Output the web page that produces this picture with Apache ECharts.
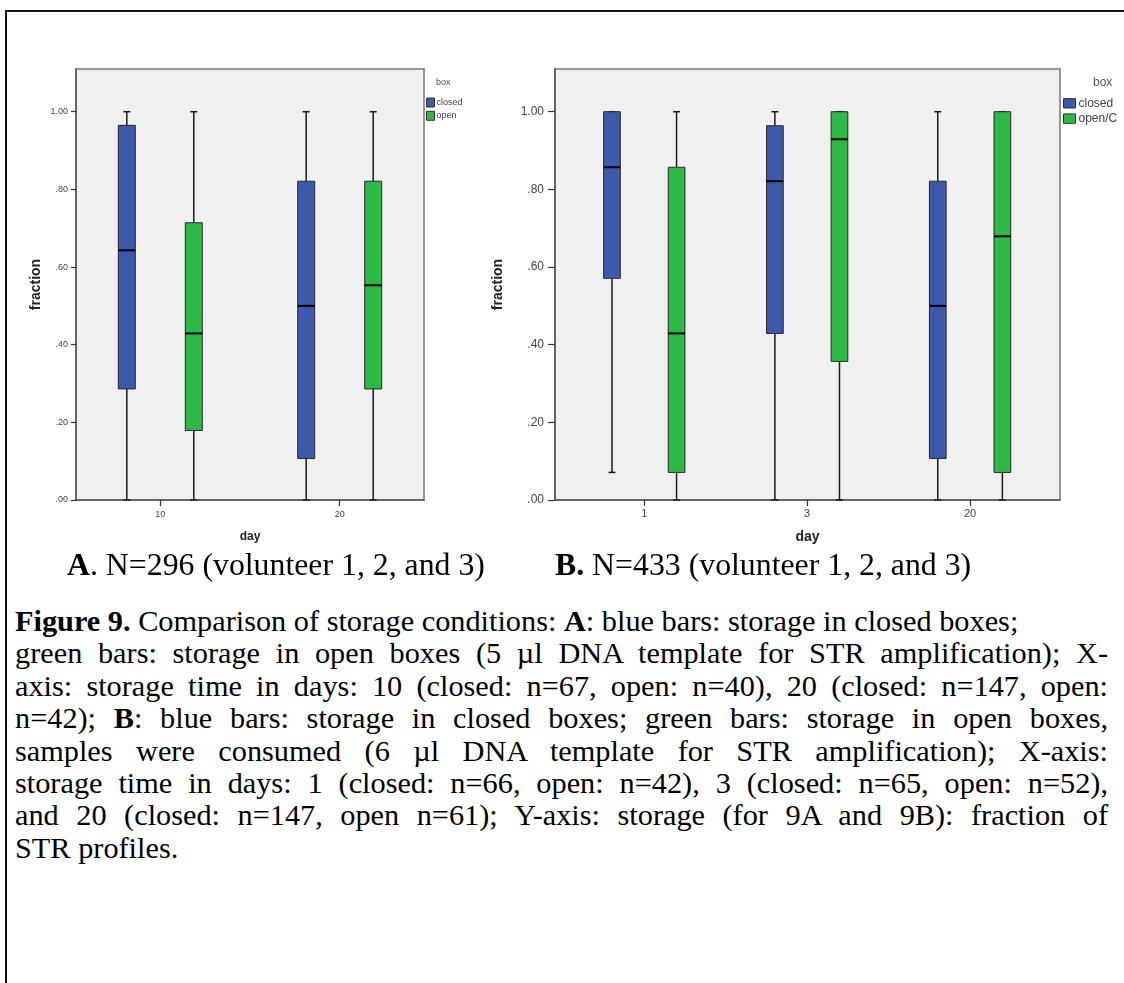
<!DOCTYPE html>
<html>
<head>
<meta charset="utf-8">
<script src="https://cdn.jsdelivr.net/npm/echarts@6/dist/echarts.min.js"></script>
<style>
  html, body { margin: 0; padding: 0; background: #fff; }
  #page { position: relative; width: 1124px; height: 983px; overflow: hidden; }
  #frame { position: absolute; left: 5px; top: 10px; width: 1200px; height: 1200px; border-top: 2px solid #111; border-left: 2px solid #111; }
  #chart { position: absolute; left: 0; top: 0; width: 1124px; height: 600px; }
  #caption { position: absolute; left: 15px; top: 605px; width: 1093px; font-family: "Liberation Serif", "Times New Roman", serif; font-size: 30.3px; line-height: 32.4px; color: #000; }
  #caption div { text-align: left; }
  #caption div.j { text-align: justify; text-align-last: justify; }
</style>
</head>
<body>
<div id="page">
  <div id="frame"></div>
  <div id="chart"></div>
  <div id="caption">
    <div><b>Figure 9.</b> Comparison of storage conditions: <b>A</b>: blue bars: storage in closed boxes;</div>
    <div class="j">green bars: storage in open boxes (5 µl DNA template for STR amplification); X-</div>
    <div class="j">axis: storage time in days: 10 (closed: n=67, open: n=40), 20 (closed: n=147, open:</div>
    <div class="j">n=42); <b>B</b>: blue bars: storage in closed boxes; green bars: storage in open boxes,</div>
    <div class="j">samples were consumed (6 µl DNA template for STR amplification); X-axis:</div>
    <div class="j">storage time in days: 1 (closed: n=66, open: n=42), 3 (closed: n=65, open: n=52),</div>
    <div class="j">and 20 (closed: n=147, open n=61); Y-axis: storage (for 9A and 9B): fraction of</div>
    <div>STR profiles.</div>
  </div>
</div>
<script>
// box stats per day: [min, q1, median, q3, max]
const daysA = ['10', '20'];
const closedA = [[0, 0.286, 0.643, 0.965, 1.0], [0, 0.107, 0.5, 0.821, 1.0]];
const openA = [[0, 0.179, 0.429, 0.714, 1.0], [0, 0.286, 0.553, 0.821, 1.0]];

const daysB = ['1', '3', '20'];
const closedB = [[0.071, 0.571, 0.857, 1.0, 1.0], [0, 0.429, 0.821, 0.964, 1.0], [0, 0.107, 0.5, 0.821, 1.0]];
const openB = [[0, 0.071, 0.429, 0.857, 1.0], [0, 0.357, 0.929, 1.0, 1.0], [0, 0.071, 0.679, 1.0, 1.0]];

const yTicks = [0, 0.2, 0.4, 0.6, 0.8, 1.0];

const BLUE = '#3e58aa';
const GREEN = '#2eb848';
const SANS = '"Liberation Sans", Arial, sans-serif';
const SERIF = '"Liberation Serif", "Times New Roman", serif';

function boxRenderer(side, color, offset, boxW) {
  return function (params, api) {
    const i = api.value(0);
    const cx = api.coord([i, 0])[0] + side * offset;
    const [yMin, yQ1, yMed, yQ3, yMax] = [1, 2, 3, 4, 5].map((k) => api.coord([i, api.value(k)])[1]);
    const hw = boxW / 2;
    const cap = 3.5;
    const ls = { stroke: '#1a1a1a', lineWidth: 1.5 };
    return {
      type: 'group',
      children: [
        { type: 'line', shape: { x1: cx, y1: yMax, x2: cx, y2: yQ3 }, style: ls },
        { type: 'line', shape: { x1: cx, y1: yQ1, x2: cx, y2: yMin }, style: ls },
        { type: 'line', shape: { x1: cx - cap, y1: yMax, x2: cx + cap, y2: yMax }, style: ls },
        { type: 'line', shape: { x1: cx - cap, y1: yMin, x2: cx + cap, y2: yMin }, style: ls },
        { type: 'rect', shape: { x: cx - hw, y: yQ3, width: boxW, height: yQ1 - yQ3 }, style: { fill: color, stroke: '#2a2a2a', lineWidth: 1 } },
        { type: 'line', shape: { x1: cx - hw, y1: yMed, x2: cx + hw, y2: yMed }, style: { stroke: '#000', lineWidth: 2 } },
      ],
    };
  };
}

function boxSeries(name, stats, idx, side, color, offset, boxW) {
  return {
    name: name,
    type: 'custom',
    xAxisIndex: idx,
    yAxisIndex: idx,
    itemStyle: { color: color },
    encode: { x: 0, y: [1, 2, 3, 4, 5] },
    data: stats.map((d, i) => [i].concat(d)),
    renderItem: boxRenderer(side, color, offset, boxW),
    silent: true,
  };
}

function xAxis(idx, days, min, max, fs, margin, nameFs, nameGap) {
  const vals = days.map((d, i) => i);
  return {
    gridIndex: idx,
    type: 'value',
    min: min,
    max: max,
    splitLine: { show: false },
    axisLine: { show: true, onZero: false, lineStyle: { color: '#555', width: 1.5 } },
    axisTick: { show: true, customValues: vals, length: 6, lineStyle: { color: '#333', width: 1.2 } },
    axisLabel: { customValues: vals, formatter: (v) => days[Math.round(v)], fontSize: fs, margin: margin, color: '#444', fontFamily: SANS },
    name: 'day',
    nameLocation: 'middle',
    nameGap: nameGap,
    nameTextStyle: { fontSize: nameFs, fontWeight: 'bold', color: '#222', fontFamily: SANS },
  };
}

function yAxis(idx, fs, margin, tickLen, nameGap) {
  return {
    gridIndex: idx,
    type: 'value',
    min: 0,
    max: 1.11,
    splitLine: { show: false },
    axisLine: { show: true, onZero: false, lineStyle: { color: '#555', width: 1.5 } },
    axisTick: { show: true, customValues: yTicks, length: tickLen, lineStyle: { color: '#333', width: 1.2 } },
    axisLabel: {
      customValues: yTicks,
      formatter: (v) => v.toFixed(2).replace(/^0/, ''),
      fontSize: fs, margin: margin, color: '#444', fontFamily: SANS,
    },
    name: 'fraction',
    nameLocation: 'middle',
    nameGap: nameGap,
    nameTextStyle: { fontSize: 14, fontWeight: 'bold', color: '#222', fontFamily: SANS },
  };
}

const chart = echarts.init(document.getElementById('chart'), null, { renderer: 'canvas' });

const option = {
  animation: false,
  title: [
    { text: 'box', left: 436, top: 78, padding: 0, textStyle: { fontSize: 9, fontWeight: 'normal', color: '#555', fontFamily: SANS } },
    { text: 'box', left: 1093, top: 77, padding: 0, textStyle: { fontSize: 12, fontWeight: 'normal', color: '#555', fontFamily: SANS } },
    {
      text: '{b|A}. N=296 (volunteer 1, 2, and 3)', left: 67, top: 551, padding: 0,
      textStyle: { fontSize: 31.8, fontWeight: 'normal', color: '#000', fontFamily: SERIF, rich: { b: { fontSize: 31.8, fontWeight: 'bold', fontFamily: SERIF, color: '#000' } } },
    },
    {
      text: '{b|B.} N=433 (volunteer 1, 2, and 3)', left: 555, top: 551, padding: 0,
      textStyle: { fontSize: 31.8, fontWeight: 'normal', color: '#000', fontFamily: SERIF, rich: { b: { fontSize: 31.8, fontWeight: 'bold', fontFamily: SERIF, color: '#000' } } },
    },
  ],
  legend: [
    {
      data: [{ name: 'closed' }, { name: 'open' }],
      left: 426, top: 97.5, orient: 'vertical', icon: 'rect',
      itemWidth: 8, itemHeight: 9, itemGap: 3.3, padding: 0, selectedMode: false,
      itemStyle: { borderColor: '#333', borderWidth: 1 },
      textStyle: { fontSize: 9, lineHeight: 9, color: '#444', fontFamily: SANS, padding: [0, 0, 0, -3] },
    },
    {
      data: [{ name: 'closed' }, { name: 'open/C' }],
      left: 1063, top: 97.3, orient: 'vertical', icon: 'rect',
      itemWidth: 12, itemHeight: 9.4, itemGap: 3.3, padding: 0, selectedMode: false,
      itemStyle: { borderColor: '#333', borderWidth: 1 },
      textStyle: { fontSize: 12, lineHeight: 9.4, color: '#444', fontFamily: SANS, padding: [0, 0, 0, -2] },
    },
  ],
  grid: [
    { left: 76, top: 69, width: 348, height: 431, show: true, backgroundColor: '#f0f0f0', borderColor: '#777', borderWidth: 1.5 },
    { left: 555, top: 69, width: 505, height: 431, show: true, backgroundColor: '#f0f0f0', borderColor: '#777', borderWidth: 1.5 },
  ],
  xAxis: [
    xAxis(0, daysA, -0.47, 1.47, 9, 10, 12, 31),
    xAxis(1, daysB, -0.548, 2.552, 11, 8, 14, 30),
  ],
  yAxis: [
    yAxis(0, 9, 8, 5, 33),
    yAxis(1, 12, 11, 7, 50),
  ],
  series: [
    boxSeries('closed', closedA, 0, -1, BLUE, 33.5, 17),
    boxSeries('open', openA, 0, 1, GREEN, 33.5, 17),
    boxSeries('closed', closedB, 1, -1, BLUE, 32.3, 16.7),
    boxSeries('open/C', openB, 1, 1, GREEN, 32.3, 16.7),
  ],
};

chart.setOption(option);
</script>
</body>
</html>
